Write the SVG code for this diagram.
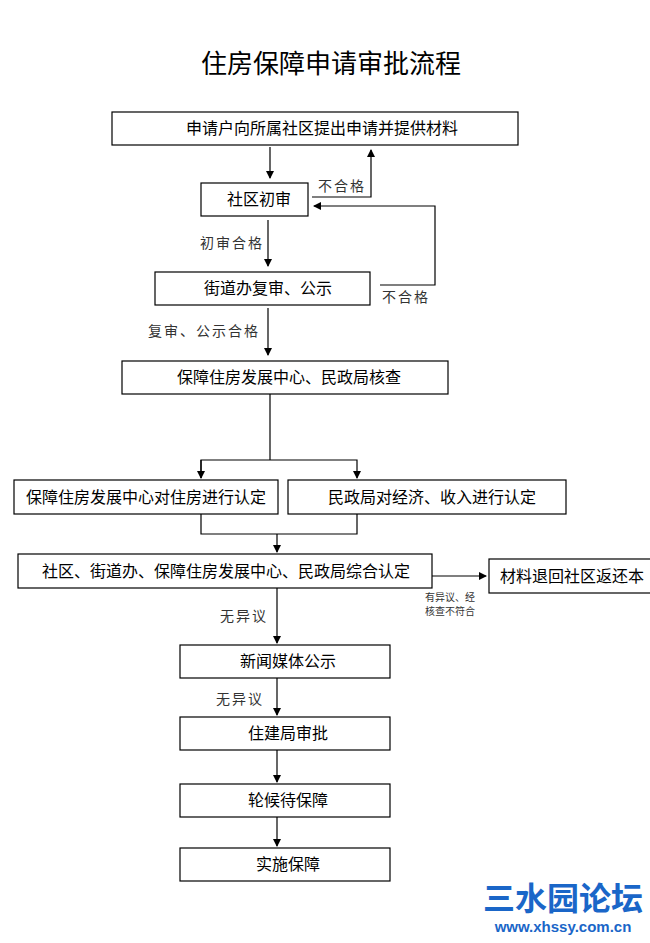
<svg xmlns="http://www.w3.org/2000/svg" width="650" height="943" viewBox="0 0 650 943">
<style>
.b{fill:#fff;stroke:#000;stroke-width:1.2}
.t{font-family:"Liberation Sans","Noto Sans CJK SC",sans-serif;font-size:16px;fill:#000;text-anchor:middle}
.l{font-family:"Liberation Serif","Noto Sans CJK SC",serif;font-size:14px;fill:#333;letter-spacing:2px}
.s{font-family:"Liberation Serif","Noto Sans CJK SC",serif;font-size:10px;fill:#333}
.c{fill:none;stroke:#000;stroke-width:1.2}
</style>
<defs><marker id="a" markerWidth="8" markerHeight="8" refX="7" refY="4" orient="auto" markerUnits="userSpaceOnUse"><path d="M0,0L8,4L0,8z" fill="#000"/></marker></defs>
<rect width="650" height="943" fill="#fff"/>
<text x="331" y="73" font-family="Liberation Sans,Noto Sans CJK SC,sans-serif" font-size="26" text-anchor="middle">住房保障申请审批流程</text>
<g id="connectors">
<path class="c" d="M270,147V178" marker-end="url(#a)"/>
<path class="c" d="M312,197H371V150" marker-end="url(#a)"/>
<path class="c" d="M380,285H435V206H314" marker-end="url(#a)"/>
<path class="c" d="M268,220V266" marker-end="url(#a)"/>
<path class="c" d="M268,308V355" marker-end="url(#a)"/>
<path class="c" d="M270,394V460"/>
<path class="c" d="M201,478V460H357V478" marker-end="url(#a)"/>
<path class="c" d="M201,460V478" marker-end="url(#a)"/>
<path class="c" d="M201,514V534H357V514M277,534V552" marker-end="url(#a)"/>
<path class="c" d="M432,576H486" marker-end="url(#a)"/>
<path class="c" d="M277,588V643" marker-end="url(#a)"/>
<path class="c" d="M277,678V715" marker-end="url(#a)"/>
<path class="c" d="M277,750V782" marker-end="url(#a)"/>
<path class="c" d="M277,817V846" marker-end="url(#a)"/>
<text class="l" x="318" y="191">不合格</text>
<text class="l" x="382" y="302">不合格</text>
<text class="l" x="200" y="248">初审合格</text>
<text class="l" x="148" y="336">复审、公示合格</text>
<text class="l" x="220" y="621">无异议</text>
<text class="l" x="216" y="704">无异议</text>
<text class="s" x="425" y="601">有异议、经</text>
<text class="s" x="425" y="615">核查不符合</text>
</g>
<g id="n1"><rect class="b" x="112" y="112" width="406" height="33"/><text class="t" x="322" y="134">申请户向所属社区提出申请并提供材料</text></g>
<g id="n2"><rect class="b" x="201" y="183" width="107" height="33"/><text class="t" x="259" y="205">社区初审</text></g>
<g id="n3"><rect class="b" x="155" y="272" width="215" height="33"/><text class="t" x="268" y="294">街道办复审、公示</text></g>
<g id="n4"><rect class="b" x="122" y="361" width="326" height="33"/><text class="t" x="289" y="383">保障住房发展中心、民政局核查</text></g>
<g id="n5"><rect class="b" x="14" y="480" width="264" height="34"/><text class="t" x="146" y="503">保障住房发展中心对住房进行认定</text></g>
<g id="n6"><rect class="b" x="288" y="480" width="278" height="34"/><text class="t" x="432" y="503">民政局对经济、收入进行认定</text></g>
<g id="n7"><rect class="b" x="18" y="554" width="414" height="34"/><text class="t" x="226" y="577">社区、街道办、保障住房发展中心、民政局综合认定</text></g>
<g id="n8"><rect class="b" x="489" y="559" width="170" height="34"/><text class="t" x="500" y="582" style="text-anchor:start">材料退回社区返还本</text></g>
<g id="n9"><rect class="b" x="180" y="645" width="210" height="33"/><text class="t" x="288" y="667">新闻媒体公示</text></g>
<g id="n10"><rect class="b" x="180" y="717" width="210" height="33"/><text class="t" x="288" y="739">住建局审批</text></g>
<g id="n11"><rect class="b" x="180" y="784" width="210" height="33"/><text class="t" x="288" y="806">轮候待保障</text></g>
<g id="n12"><rect class="b" x="180" y="848" width="210" height="33"/><text class="t" x="288" y="870">实施保障</text></g>
<g id="watermark">
<text x="563" y="910" font-family="Noto Sans CJK SC,sans-serif" font-size="32" font-weight="bold" fill="#1a66c8" text-anchor="middle">三水园论坛</text>
<text x="563" y="932" font-family="Liberation Sans,sans-serif" font-size="15" font-weight="bold" fill="#1a66c8" text-anchor="middle">www.xhssy.com.cn</text>
</g>
</svg>
